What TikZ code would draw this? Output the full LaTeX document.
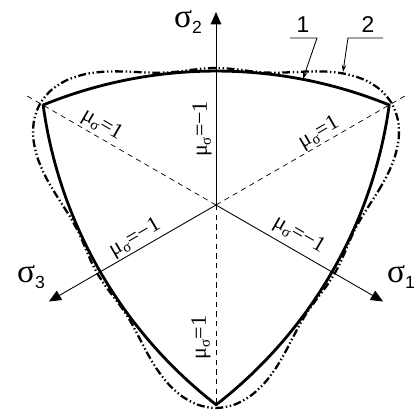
\documentclass[tikz,border=0pt]{standalone}
\usepackage{fontspec}
\setmainfont{Liberation Serif}
\newfontfamily\labelsans{Liberation Sans}
\usetikzlibrary{arrows.meta}
\newcommand{\sig}[1]{σ\raisebox{-0.35ex}{\labelsans\fontsize{10}{10}\selectfont #1}}
\newcommand{\mus}[1]{μ\raisebox{-0.4ex}{\fontsize{8.5}{8.5}\selectfont σ}=#1}
\tikzset{
  every picture/.style={line width=0.5pt},
  axis/.style={-{Triangle[length=7pt,width=6pt]}, line width=0.5pt},
  ray/.style={dash pattern=on 3pt off 2.5pt, line width=0.4pt},
  curveone/.style={line width=1.6pt, line join=round},
  curvetwo/.style={line width=1.3pt, dash pattern=on 4.5pt off 1.5pt on 0.8pt off 1.5pt on 0.8pt off 1.5pt},
  axlabel/.style={font=\fontsize{19}{19}\selectfont, inner sep=0pt},
  mulabel/.style={font=\fontsize{12.5}{12.5}\selectfont, inner sep=0pt},
  numlabel/.style={font=\labelsans\fontsize{13}{13}\selectfont, inner sep=0pt},
  leader/.style={-{Stealth[length=4pt,width=2.5pt]}, line width=0.5pt},
}
\begin{document}
\begin{tikzpicture}
  \useasboundingbox (-4.32,-4.1) rectangle (3.96,4.1);
  \coordinate (O) at (0,0);
  % corners of curve 1
  \coordinate (v1) at (30:4);
  \coordinate (v2) at (150:4);
  \coordinate (v3) at (270:4);
  % axes
  \coordinate (s1end) at (-30:3.86);
  \coordinate (s2end) at (90:3.86);
  \coordinate (s3end) at (210:3.86);
  \draw[axis] (O) -- (s1end);
  \draw[axis] (O) -- (s2end);
  \draw[axis] (O) -- (s3end);
  % dashed rays
  \coordinate (r1end) at (30:4.36);
  \coordinate (r2end) at (150:4.36);
  \draw[ray] (O) -- (r1end);
  \draw[ray] (O) -- (r2end);
  \draw[ray] (O) -- (v3);
  % curve 1
  \draw[curveone] (v1) arc[start angle=-7.8, end angle=-52.2, radius=9.16]
    arc[start angle=232.2, end angle=187.8, radius=9.16]
    arc[start angle=112.2, end angle=67.8, radius=9.16] -- cycle;
  % curve 2
  \draw[curvetwo] plot[smooth cycle, domain=0:355, samples=72, variable=\t]
    (\t:{3.234+0.66*cos(3*(\t-30))+0.166*cos(6*(\t-30))});
  % axis labels
  \node[axlabel] (l2) at (-0.56,3.66) {\sig{2}};
  \node[axlabel] (l1) at (3.7,-1.44) {\sig{1}};
  \node[axlabel] (l3) at (-3.7,-1.44) {\sig{3}};
  % curve numbers
  \node[numlabel] (n1) at (1.74,3.6) {1};
  \coordinate (n1a) at (1.48,3.34);
  \coordinate (n1b) at (2.02,3.34);
  \coordinate (t1) at (1.74,2.52);
  \draw[leader] (n1a) -- (n1b) -- (t1);
  \node[numlabel] (n2) at (3.04,3.6) {2};
  \coordinate (n2a) at (3.34,3.34);
  \coordinate (n2b) at (2.64,3.34);
  \coordinate (t2) at (2.54,2.66);
  \draw[leader] (n2a) -- (n2b) -- (t2);
  % mu labels
  \node[mulabel, rotate=90] (m2) at (-0.28,1.52) {\mus{−1}};
  \node[mulabel, rotate=90] (m5) at (-0.3,-2.65) {\mus{1}};
  \node[mulabel, rotate=-30] (m1) at (-2.28,1.6) {\mus{1}};
  \node[mulabel, rotate=30] (m3) at (2.06,1.44) {\mus{1}};
  \node[mulabel, rotate=30] (m4) at (-1.62,-0.66) {\mus{−1}};
  \node[mulabel, rotate=-30] (m6) at (1.66,-0.6) {\mus{−1}};
\end{tikzpicture}
\end{document}
